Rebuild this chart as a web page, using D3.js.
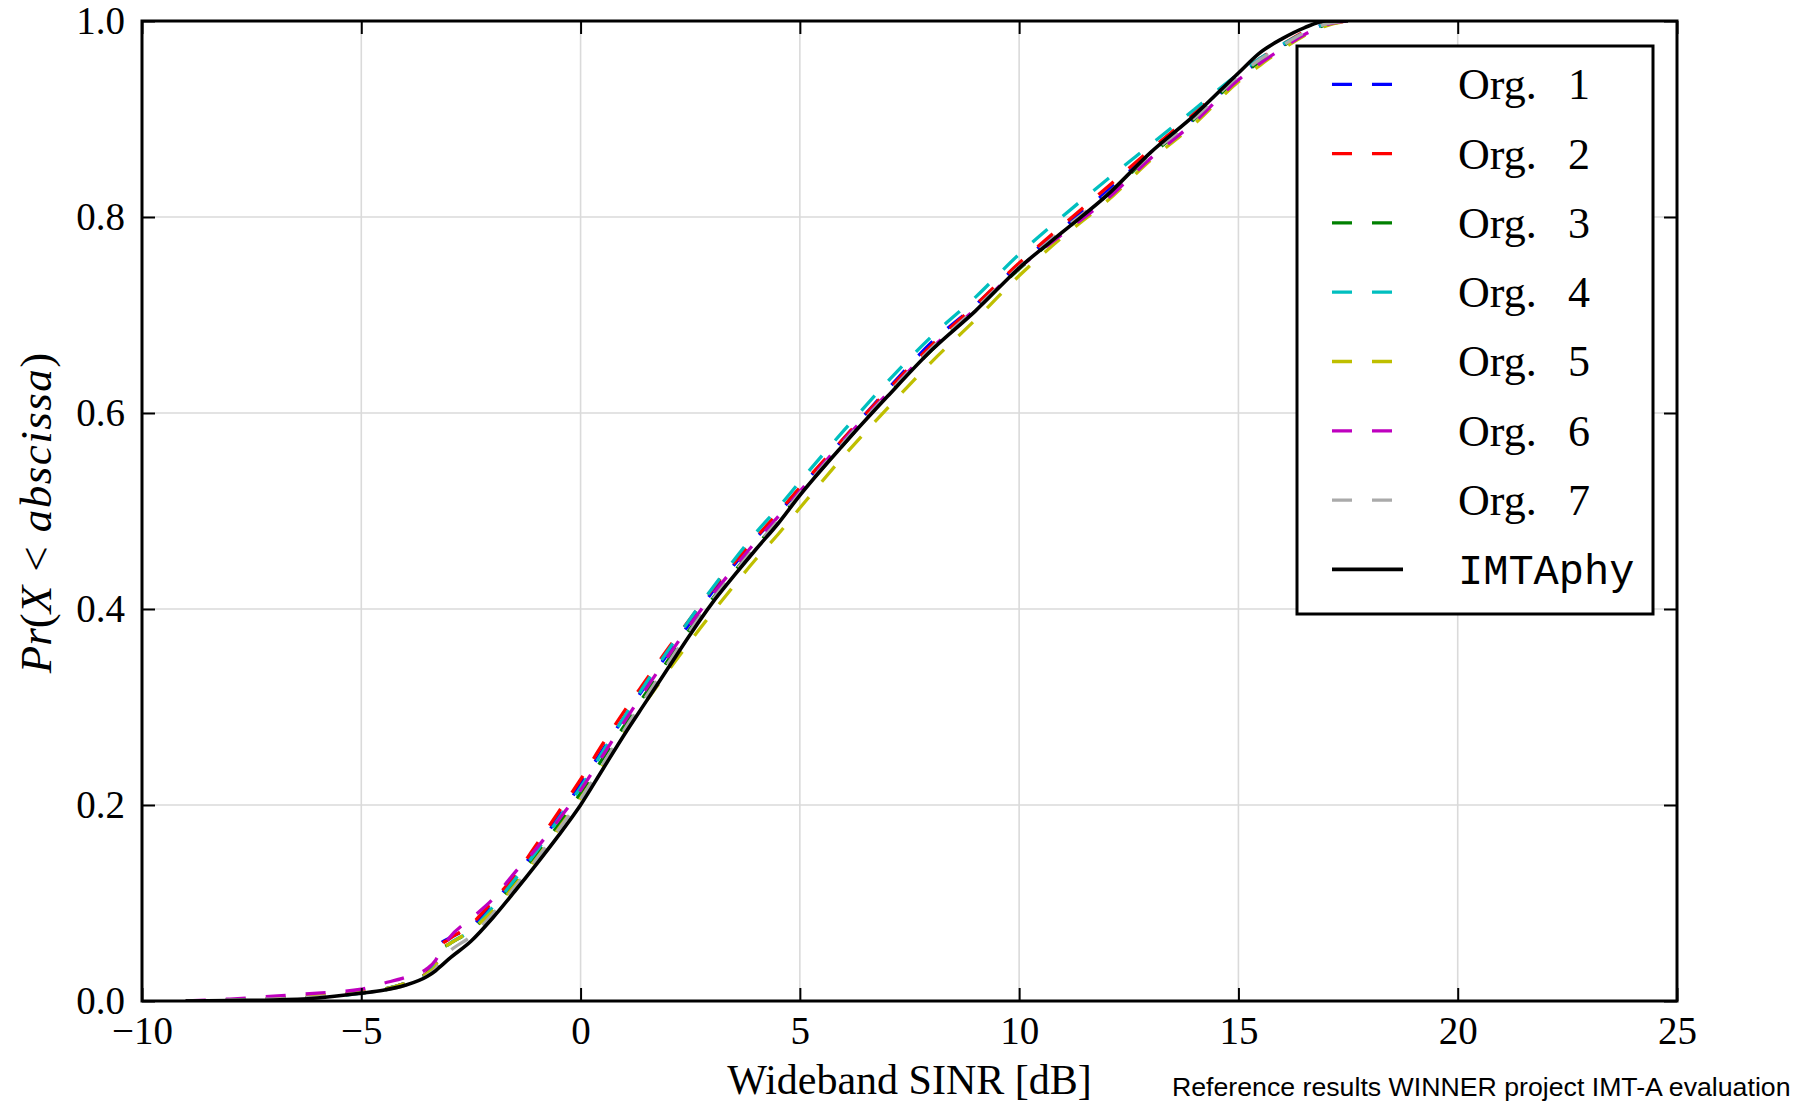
<!DOCTYPE html>
<html>
<head>
<meta charset="utf-8">
<script src="https://cdn.jsdelivr.net/npm/d3@7"></script>
<style>
body { margin: 0; background: white; }
svg text { font-family: "Liberation Serif", serif; fill: black; }
</style>
</head>
<body>
<div id="chart"></div>
<script>
// wideband SINR grid in dB, shared by all curves
var sinr = [-9, -8, -7, -6, -5, -4.5, -4, -3.5, -3.3, -3.2, -3, -2.5, -2, -1.5, -1, -0.5, 0, 0.5, 1, 1.5, 2, 2.5, 3, 3.5, 4, 4.5, 5, 6, 7, 8, 9, 10, 11, 12, 13, 14, 15, 15.5, 16, 16.5, 17, 17.5]

var org1 = [0, 0.001, 0.002, 0.004, 0.009, 0.012, 0.018, 0.029, 0.040, 0.058, 0.064, 0.076, 0.099, 0.126, 0.156, 0.188, 0.221, 0.256, 0.290, 0.323, 0.355, 0.386, 0.417, 0.445, 0.472, 0.497, 0.523, 0.574, 0.624, 0.672, 0.710, 0.752, 0.789, 0.826, 0.866, 0.901, 0.943, 0.960, 0.975, 0.988, 0.997, 1.0]
var org2 = [0, 0.001, 0.002, 0.004, 0.009, 0.012, 0.018, 0.029, 0.040, 0.056, 0.063, 0.078, 0.102, 0.128, 0.160, 0.193, 0.226, 0.262, 0.296, 0.328, 0.360, 0.390, 0.420, 0.447, 0.473, 0.498, 0.524, 0.574, 0.623, 0.669, 0.710, 0.753, 0.792, 0.830, 0.869, 0.906, 0.946, 0.962, 0.976, 0.989, 0.997, 1.0]
var org3 = [0, 0.001, 0.002, 0.004, 0.008, 0.011, 0.017, 0.027, 0.036, 0.052, 0.058, 0.072, 0.094, 0.121, 0.150, 0.180, 0.212, 0.247, 0.281, 0.315, 0.348, 0.380, 0.410, 0.438, 0.464, 0.490, 0.517, 0.568, 0.618, 0.664, 0.705, 0.747, 0.785, 0.822, 0.863, 0.900, 0.942, 0.959, 0.974, 0.987, 0.996, 1.0]
var org4 = [0, 0.001, 0.002, 0.004, 0.008, 0.012, 0.018, 0.028, 0.038, 0.050, 0.058, 0.072, 0.096, 0.124, 0.153, 0.186, 0.218, 0.254, 0.290, 0.325, 0.358, 0.390, 0.421, 0.450, 0.478, 0.503, 0.530, 0.582, 0.632, 0.678, 0.718, 0.762, 0.801, 0.838, 0.874, 0.910, 0.946, 0.962, 0.976, 0.988, 0.997, 1.0]
var org5 = [0, 0.001, 0.003, 0.006, 0.009, 0.012, 0.018, 0.028, 0.036, 0.052, 0.058, 0.072, 0.092, 0.118, 0.146, 0.176, 0.207, 0.240, 0.274, 0.306, 0.337, 0.367, 0.396, 0.424, 0.451, 0.476, 0.503, 0.556, 0.605, 0.652, 0.695, 0.740, 0.780, 0.816, 0.858, 0.895, 0.938, 0.955, 0.971, 0.985, 0.995, 1.0]
var org6 = [0, 0.002, 0.005, 0.008, 0.012, 0.018, 0.024, 0.033, 0.042, 0.050, 0.064, 0.084, 0.104, 0.131, 0.156, 0.185, 0.215, 0.250, 0.285, 0.319, 0.352, 0.384, 0.414, 0.442, 0.469, 0.494, 0.520, 0.572, 0.620, 0.666, 0.706, 0.748, 0.783, 0.818, 0.860, 0.897, 0.940, 0.957, 0.972, 0.986, 0.996, 1.0]
var org7 = [0, 0.001, 0.002, 0.004, 0.008, 0.011, 0.016, 0.026, 0.033, 0.040, 0.050, 0.066, 0.089, 0.116, 0.145, 0.175, 0.206, 0.241, 0.277, 0.311, 0.345, 0.378, 0.409, 0.437, 0.464, 0.490, 0.518, 0.570, 0.619, 0.666, 0.706, 0.749, 0.787, 0.823, 0.864, 0.901, 0.944, 0.961, 0.975, 0.988, 0.997, 1.0]
var imtaphy = [0, 0.0005, 0.001, 0.003, 0.008, 0.011, 0.016, 0.025, 0.031, 0.035, 0.043, 0.061, 0.085, 0.112, 0.140, 0.169, 0.200, 0.236, 0.272, 0.306, 0.340, 0.374, 0.406, 0.434, 0.461, 0.487, 0.516, 0.568, 0.617, 0.664, 0.704, 0.748, 0.785, 0.822, 0.866, 0.904, 0.947, 0.968, 0.982, 0.993, 1.0, 1.0]

var orgNames = ["1", "2", "3", "4", "5", "6", "7"]
var orgColors = ["#0000ff", "#ff0000", "#008000", "#00bfbf", "#bfbf00", "#bf00bf", "#aaaaaa"]
var xTicks = [-10, -5, 0, 5, 10, 15, 20, 25]
var yTicks = [0, 0.2, 0.4, 0.6, 0.8, 1.0]

var width = 1811, height = 1102
var plotLeft = 142, plotRight = 1677, plotTop = 21, plotBottom = 1001

var svg = d3.select("#chart")
    .append("svg")
        .attr("width", width)
        .attr("height", height)
        .attr("xmlns", "http://www.w3.org/2000/svg")

var x = d3.scaleLinear().domain([-10, 25]).range([plotLeft, plotRight])
var y = d3.scaleLinear().domain([0, 1]).range([plotBottom, plotTop])

svg.append("defs")
    .append("clipPath")
        .attr("id", "plot-clip")
    .append("rect")
        .attr("x", plotLeft)
        .attr("y", plotTop)
        .attr("width", plotRight - plotLeft)
        .attr("height", plotBottom - plotTop)

// grid
var grid = svg.append("g").classed("grid", true)
grid.selectAll("line.gx")
    .data(xTicks.slice(1, -1))
    .enter().append("line")
        .attr("x1", d => x(d))
        .attr("x2", d => x(d))
        .attr("y1", plotTop)
        .attr("y2", plotBottom)
grid.selectAll("line.gy")
    .data(yTicks.slice(1, -1))
    .enter().append("line")
        .attr("x1", plotLeft)
        .attr("x2", plotRight)
        .attr("y1", d => y(d))
        .attr("y2", d => y(d))
grid.selectAll("line")
    .attr("stroke", "#dadada")
    .attr("stroke-width", 1.6)

// curves
var allOrgs = [org1, org2, org3, org4, org5, org6, org7]
var line = d3.line()
    .x(d => x(d[0]))
    .y(d => y(d[1]))
    .curve(d3.curveMonotoneX)

var curves = svg.append("g").attr("clip-path", "url(#plot-clip)")
allOrgs.forEach(function(vals, i) {
    curves.append("path")
        .datum(d3.zip(sinr, vals))
        .attr("d", line)
        .attr("fill", "none")
        .attr("stroke", orgColors[i])
        .attr("stroke-width", 3.3)
        .attr("stroke-dasharray", "20,20")
})
curves.append("path")
    .datum(d3.zip(sinr, imtaphy))
    .attr("d", line)
    .attr("fill", "none")
    .attr("stroke", "black")
    .attr("stroke-width", 3.6)

// axes, ticks pointing inwards on all four sides
function styleAxis(g) {
    g.select(".domain").remove()
    g.selectAll(".tick line").attr("stroke", "black").attr("stroke-width", 2)
    g.attr("font-family", null).attr("font-size", null)
    g.selectAll("text").style("font-size", "39px")
}

svg.append("g")
    .attr("transform", "translate(0," + plotBottom + ")")
    .call(d3.axisBottom(x).tickValues(xTicks).tickFormat(d3.format("d")).tickSizeInner(-13).tickSizeOuter(0).tickPadding(15))
    .call(styleAxis)
svg.append("g")
    .attr("transform", "translate(0," + plotTop + ")")
    .call(d3.axisTop(x).tickValues(xTicks).tickFormat("").tickSizeInner(-13).tickSizeOuter(0))
    .call(styleAxis)
svg.append("g")
    .attr("transform", "translate(" + plotLeft + ",0)")
    .call(d3.axisLeft(y).tickValues(yTicks).tickFormat(d3.format(".1f")).tickSizeInner(-13).tickSizeOuter(0).tickPadding(17))
    .call(styleAxis)
svg.append("g")
    .attr("transform", "translate(" + plotRight + ",0)")
    .call(d3.axisRight(y).tickValues(yTicks).tickFormat("").tickSizeInner(-13).tickSizeOuter(0))
    .call(styleAxis)

// frame
svg.append("rect")
    .attr("x", plotLeft)
    .attr("y", plotTop)
    .attr("width", plotRight - plotLeft)
    .attr("height", plotBottom - plotTop)
    .attr("fill", "none")
    .attr("stroke", "black")
    .attr("stroke-width", 3)

// axis labels
svg.append("text")
    .attr("x", (plotLeft + plotRight) / 2)
    .attr("y", 1094)
    .attr("text-anchor", "middle")
    .style("font-size", "42px")
    .text("Wideband SINR [dB]")

var ylab = svg.append("text")
    .attr("transform", "translate(51," + ((plotTop + plotBottom) / 2 + 2) + ") rotate(-90)")
    .attr("text-anchor", "middle")
    .style("font-size", "45px")
ylab.append("tspan").style("font-style", "italic").text("Pr")
ylab.append("tspan").text("(")
ylab.append("tspan").style("font-style", "italic").text("X")
ylab.append("tspan").attr("dx", 14).text("<")
ylab.append("tspan").attr("dx", 14).style("font-style", "italic").attr("letter-spacing", 1.5).text("abscissa")
ylab.append("tspan").text(")")

svg.append("text")
    .attr("x", 1172)
    .attr("y", 1096)
    .style("font-family", "'Liberation Sans', Arial, sans-serif")
    .style("font-size", "26.7px")
    .text("Reference results WINNER project IMT-A evaluation")

// legend
var legend = svg.append("g").classed("legend", true)
legend.append("rect")
    .attr("x", 1297)
    .attr("y", 46)
    .attr("width", 1653 - 1297)
    .attr("height", 614 - 46)
    .attr("fill", "white")
    .attr("stroke", "black")
    .attr("stroke-width", 3)

var rowY = d3.scaleLinear().domain([0, 7]).range([84.3, 84.3 + 7 * 69.3])

orgNames.forEach(function(name, i) {
    legend.append("line")
        .attr("x1", 1332)
        .attr("x2", 1393)
        .attr("y1", rowY(i))
        .attr("y2", rowY(i))
        .attr("stroke", orgColors[i])
        .attr("stroke-width", 3.3)
        .attr("stroke-dasharray", "20,20")
    var t = legend.append("text")
        .attr("y", rowY(i))
        .attr("dy", "0.34em")
        .style("font-size", "44px")
    t.append("tspan").attr("x", 1458).text("Org.")
    t.append("tspan").attr("x", 1568).text(name)
})

legend.append("line")
    .attr("x1", 1332)
    .attr("x2", 1403)
    .attr("y1", rowY(7))
    .attr("y2", rowY(7))
    .attr("stroke", "black")
    .attr("stroke-width", 3.6)
legend.append("text")
    .attr("x", 1458)
    .attr("y", rowY(7))
    .attr("dy", "0.34em")
    .style("font-family", "'Liberation Mono', monospace")
    .style("font-size", "42px")
    .text("IMTAphy")
</script>
</body>
</html>
